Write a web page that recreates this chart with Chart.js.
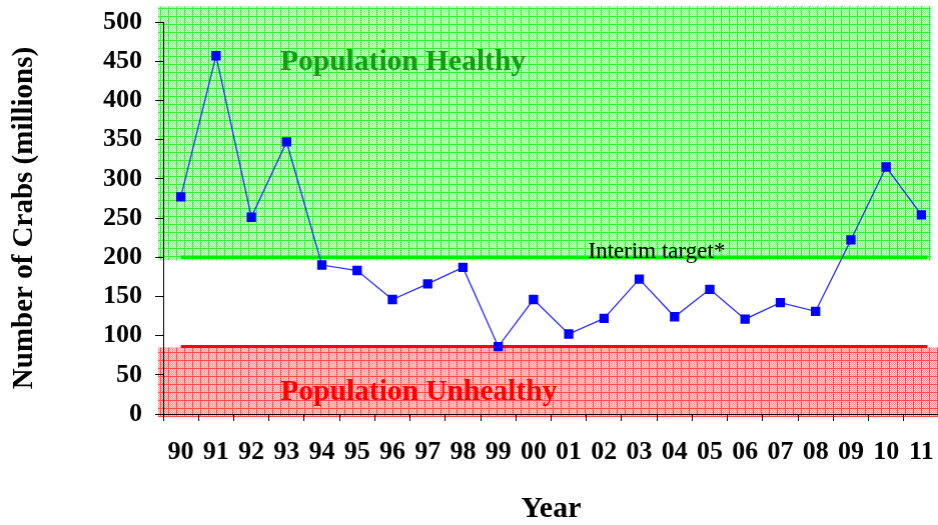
<!DOCTYPE html>
<html lang="en">
<head>
    <meta charset="UTF-8">
    <title>Crab Population</title>
    <script src="https://cdn.jsdelivr.net/npm/chart.js"></script>
    <style>
        body {
            margin: 0;
            padding: 0;
            background: #fff;
            overflow: hidden;
        }

        /* a bit wider than the window: Chart.js keeps point-radius room on the right */
        .chart-box {
            width: 944.6px;
            height: 525px;
        }
    </style>
</head>
<body>
    <div class="chart-box">
        <canvas id="crabChart"></canvas>
    </div>

    <script>
        // Data
        const years = ['90', '91', '92', '93', '94', '95', '96', '97', '98', '99', '00',
                       '01', '02', '03', '04', '05', '06', '07', '08', '09', '10', '11'];
        const crabs = [277, 457, 251, 347, 190, 183, 146, 166, 187, 86, 146,
                       102, 122, 172, 124, 159, 121, 142, 131, 222, 315, 254];
        const yTicks = [0, 50, 100, 150, 200, 250, 300, 350, 400, 450, 500];
        const interimTarget = 200;
        const unhealthyLimit = 86;

        const serif = "'Liberation Serif', 'Times New Roman', serif";

        // Hatched fill like the old spreadsheet pattern
        function makePattern(base, dot, line) {
            const c = document.createElement('canvas');
            c.width = 8;
            c.height = 8;
            const p = c.getContext('2d');
            p.fillStyle = base;
            p.fillRect(0, 0, 8, 8);
            p.fillStyle = dot;
            for (let i = 0; i < 8; i++) {
                for (let j = 0; j < 8; j++) {
                    if ((i + j) % 2 === 0) p.fillRect(i, j, 1, 1);
                }
            }
            p.fillStyle = line;
            p.fillRect(0, 0, 8, 1);
            p.fillRect(0, 0, 1, 8);
            return c;
        }

        const zonesPlugin = {
            id: 'zones',
            beforeDraw(chart) {
                const ctx = chart.ctx;
                const x = chart.scales.x;
                const y = chart.scales.y;
                const area = chart.chartArea;
                const green = ctx.createPattern(makePattern('#80f680', '#dcffdc', '#3ce83c'), 'repeat');
                const red = ctx.createPattern(makePattern('#ff8c8c', '#ffdada', '#ff4a4a'), 'repeat');
                ctx.save();
                ctx.fillStyle = green;
                const gTop = y.getPixelForValue(520);
                const gBot = y.getPixelForValue(196);
                const gRight = x.getPixelForValue(21) + 10;
                ctx.fillRect(area.left - 5, gTop, gRight - area.left + 5, gBot - gTop);
                ctx.fillStyle = red;
                const rTop = y.getPixelForValue(85);
                const rBot = y.getPixelForValue(-4);
                ctx.fillRect(area.left - 5, rTop, chart.width - area.left + 5, rBot - rTop);
                ctx.restore();
            },
            beforeDatasetsDraw(chart) {
                const ctx = chart.ctx;
                const x = chart.scales.x;
                const y = chart.scales.y;
                const x0 = x.getPixelForValue(0);
                const x1 = x.getPixelForValue(21) + 6;
                ctx.save();
                ctx.lineWidth = 3.5;
                ctx.strokeStyle = '#00ee00';
                ctx.beginPath();
                ctx.moveTo(x0, y.getPixelForValue(interimTarget));
                ctx.lineTo(x1, y.getPixelForValue(interimTarget));
                ctx.stroke();
                ctx.strokeStyle = '#ff0000';
                ctx.lineWidth = 3;
                ctx.beginPath();
                ctx.moveTo(x0, y.getPixelForValue(unhealthyLimit));
                ctx.lineTo(x1, y.getPixelForValue(unhealthyLimit));
                ctx.stroke();

                ctx.textAlign = 'center';
                ctx.textBaseline = 'middle';
                ctx.font = 'bold 29.5px ' + serif;
                ctx.fillStyle = '#149c14';
                ctx.fillText('Population Healthy', x.getPixelForValue(6.3), y.getPixelForValue(448));
                ctx.fillStyle = '#ff0000';
                ctx.fillText('Population Unhealthy', x.getPixelForValue(6.75), y.getPixelForValue(28));

                ctx.textAlign = 'left';
                ctx.textBaseline = 'alphabetic';
                ctx.font = '23px ' + serif;
                ctx.fillStyle = '#000';
                ctx.fillText('Interim target*', x.getPixelForValue(11.55), y.getPixelForValue(interimTarget) + 1);
                ctx.restore();
            }
        };

        const ctx = document.getElementById('crabChart').getContext('2d');
        new Chart(ctx, {
            type: 'line',
            data: {
                labels: years,
                datasets: [{
                    label: 'Crabs',
                    data: crabs,
                    borderColor: '#2a2aff',
                    borderWidth: 1.3,
                    pointStyle: 'rect',
                    pointRadius: 6.6,
                    pointBackgroundColor: '#0000ff',
                    pointBorderColor: '#0000ff',
                    pointBorderWidth: 0,
                    tension: 0
                }]
            },
            options: {
                responsive: true,
                maintainAspectRatio: false,
                animation: false,
                layout: {
                    padding: { top: 22, right: 0, bottom: 0, left: 0 }
                },
                plugins: {
                    legend: { display: false },
                    tooltip: { enabled: false }
                },
                scales: {
                    x: {
                        type: 'category',
                        offset: true,
                        grid: {
                            offset: true,
                            drawOnChartArea: false,
                            drawTicks: true,
                            tickLength: 7,
                            color: '#000'
                        },
                        border: { display: true, color: '#000', width: 1 },
                        ticks: {
                            color: '#000',
                            padding: 16,
                            maxRotation: 0,
                            autoSkip: false,
                            font: { family: serif, size: 26, weight: 'bold' }
                        },
                        title: {
                            display: true,
                            text: 'Year',
                            color: '#000',
                            padding: { top: 0, bottom: 1 },
                            font: { family: serif, size: 30, weight: 'bold', lineHeight: 1 }
                        },
                        afterFit(scale) {
                            scale.height = 111;
                            scale.paddingLeft = 0;
                            scale.paddingRight = 0;
                        }
                    },
                    y: {
                        min: 0,
                        max: 500,
                        afterBuildTicks(scale) {
                            scale.ticks = yTicks.map(v => ({ value: v }));
                        },
                        grid: {
                            drawOnChartArea: false,
                            drawTicks: true,
                            tickLength: 8,
                            color: '#000'
                        },
                        border: { display: true, color: '#000', width: 1 },
                        ticks: {
                            color: '#000',
                            padding: 13,
                            font: { family: serif, size: 26, weight: 'bold' }
                        },
                        title: {
                            display: true,
                            text: 'Number of Crabs (millions)',
                            color: '#000',
                            padding: { top: 7, bottom: 0 },
                            font: { family: serif, size: 29, weight: 'bold' }
                        },
                        afterFit(scale) {
                            scale.width = 163;
                            scale.paddingTop = 0;
                            scale.paddingBottom = 0;
                        }
                    }
                }
            },
            plugins: [zonesPlugin]
        });
    </script>
</body>
</html>
